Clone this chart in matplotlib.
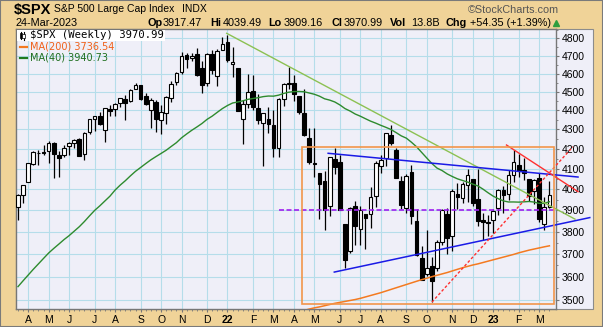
import matplotlib
matplotlib.use("Agg")
import matplotlib.pyplot as plt
import numpy as np
import pandas as pd
from matplotlib.patches import Rectangle
from matplotlib.lines import Line2D
from matplotlib.ticker import FixedLocator, FixedFormatter, NullFormatter

plt.rcParams['font.family'] = ['Liberation Sans', 'DejaVu Sans']

# ---------------- data ----------------
weeks = pd.date_range('2021-03-26', '2023-03-24', freq='W-FRI')

opens = [3916.48, 3971.09, 4034.44, 4124.71, 4179.80, 4185.14, 4191.98, 4228.29, 4169.14, 4168.61,
         4216.52, 4229.34, 4248.87, 4173.40, 4284.90, 4356.46, 4372.41, 4296.40, 4409.58, 4406.86,
         4438.16, 4462.12, 4450.29, 4513.76, 4535.38, 4474.81, 4402.95, 4442.12, 4348.84, 4385.44,
         4463.72, 4553.69, 4610.62, 4701.48, 4689.30, 4712.00, 4628.75, 4548.37, 4710.30, 4587.90,
         4733.99, 4778.14, 4655.34, 4632.24, 4356.32, 4431.79, 4505.75, 4412.61, 4332.74, 4354.17,
         4322.56, 4202.75, 4462.40, 4541.09, 4547.97, 4474.65, 4385.63, 4255.34, 4130.61, 4081.27,
         4038.88, 3919.42, 4151.09, 4134.72, 3838.15, 3715.31, 3920.76, 3815.11, 3880.94, 3883.79,
         3965.72, 4112.38, 4155.93, 4269.37, 4195.08, 4041.25, 3909.43, 4083.67, 3849.91, 3682.72,
         3609.78, 3647.51, 3638.65, 3754.74, 3881.85, 3780.71, 3977.97, 3956.23, 4023.34, 4052.02,
         3954.17, 3853.79, 3843.34, 3853.29, 3910.82, 3999.28, 3978.14, 4070.07, 4119.57, 4096.62,
         4052.35, 3992.36, 4055.15, 3835.12, 3917.47]
highs = [3978.19, 4020.63, 4129.48, 4191.31, 4194.17, 4218.78, 4238.04, 4236.39, 4188.72, 4218.36,
         4234.12, 4249.74, 4257.16, 4286.12, 4355.01, 4372.87, 4393.68, 4415.18, 4429.97, 4440.82,
         4468.00, 4480.26, 4513.33, 4545.85, 4535.38, 4492.99, 4465.40, 4457.30, 4429.97, 4475.82,
         4559.67, 4608.08, 4718.50, 4714.92, 4717.75, 4743.83, 4672.95, 4713.57, 4731.99, 4740.74,
         4808.93, 4818.62, 4748.83, 4632.24, 4453.23, 4595.31, 4590.03, 4489.55, 4385.34, 4416.78,
         4402.64, 4465.40, 4546.03, 4637.30, 4593.45, 4474.65, 4512.94, 4308.45, 4307.66, 4081.27,
         4090.72, 4158.49, 4204.77, 4168.78, 3838.15, 3913.65, 3945.86, 3918.50, 3880.94, 4012.44,
         4140.15, 4167.66, 4280.47, 4325.28, 4203.04, 4062.99, 4076.81, 4119.28, 3907.07, 3736.00,
         3806.91, 3685.41, 3762.79, 3905.42, 3911.79, 4001.48, 4028.84, 4034.02, 4100.96, 4052.45,
         4100.96, 3889.00, 3878.30, 3906.19, 4003.95, 4015.39, 4094.21, 4195.44, 4176.54, 4156.00,
         4052.35, 4048.29, 4078.49, 3964.46, 4039.49]
lows = [3853.50, 3937.00, 4034.44, 4118.60, 4118.38, 4169.00, 4126.99, 4056.88, 4061.41, 4157.00,
        4167.59, 4205.00, 4164.40, 4144.33, 4278.00, 4289.37, 4321.00, 4233.13, 4372.00, 4367.73,
        4417.00, 4347.53, 4443.00, 4513.00, 4457.00, 4427.00, 4305.91, 4288.52, 4278.94, 4329.92,
        4447.47, 4537.36, 4595.06, 4630.86, 4672.78, 4585.43, 4495.12, 4532.00, 4600.22, 4531.10,
        4733.00, 4662.74, 4582.24, 4395.34, 4222.62, 4414.00, 4401.41, 4327.22, 4114.65, 4279.54,
        4157.87, 4161.72, 4424.30, 4517.69, 4450.04, 4381.34, 4267.62, 4124.28, 4062.51, 3858.87,
        3810.32, 3875.13, 4074.00, 3900.16, 3636.87, 3705.00, 3738.67, 3742.06, 3721.56, 3818.63,
        3913.42, 4079.81, 4112.09, 4218.70, 4057.66, 3906.21, 3886.82, 3837.08, 3690.00, 3584.13,
        3604.00, 3491.58, 3624.00, 3741.00, 3698.15, 3713.00, 3906.54, 3933.00, 3938.00, 3918.39,
        3827.28, 3764.49, 3780.00, 3794.33, 3877.00, 3885.54, 3949.06, 4037.20, 4060.79, 4047.00,
        3943.08, 3928.16, 3846.32, 3808.86, 3909.16]
closes = [3974.54, 4019.87, 4128.80, 4185.47, 4180.17, 4181.17, 4232.60, 4173.85, 4155.86, 4204.11,
          4229.89, 4247.44, 4166.45, 4280.70, 4352.34, 4369.55, 4327.16, 4411.79, 4395.26, 4436.52,
          4468.00, 4441.67, 4509.37, 4535.43, 4458.58, 4432.99, 4455.48, 4357.04, 4391.34, 4471.37,
          4544.90, 4605.38, 4697.53, 4682.85, 4697.96, 4594.62, 4538.43, 4712.02, 4620.64, 4725.79,
          4766.18, 4677.03, 4662.85, 4397.94, 4431.85, 4500.53, 4418.64, 4348.87, 4384.65, 4328.87,
          4204.31, 4463.12, 4543.06, 4545.86, 4488.28, 4392.59, 4271.78, 4131.93, 4123.34, 4023.89,
          3901.36, 4158.24, 4108.54, 3900.86, 3674.84, 3911.74, 3825.33, 3899.38, 3863.16, 3961.63,
          4130.29, 4145.19, 4280.15, 4228.48, 4057.66, 3924.26, 4067.36, 3873.33, 3693.23, 3585.62,
          3639.66, 3583.07, 3752.75, 3901.06, 3770.55, 3992.93, 3965.34, 4026.12, 4071.70, 3934.38,
          3852.36, 3844.82, 3839.50, 3895.08, 3999.09, 3972.61, 4070.56, 4136.48, 4090.46, 4079.09,
          3970.04, 4045.64, 3861.59, 3916.64, 3970.99]

# weekly closes of the 39 weeks before the first candle (for the 40-week average)
prior_closes = [3009.05, 3130.01, 3185.04, 3224.73, 3215.63, 3271.12, 3351.28, 3372.85, 3397.16, 3508.01,
                3426.96, 3340.97, 3319.47, 3298.46, 3348.44, 3477.13, 3483.81, 3465.39, 3269.96, 3509.44,
                3585.15, 3557.54, 3638.35, 3699.12, 3663.46, 3709.41, 3703.06, 3756.07, 3824.68, 3768.25,
                3841.47, 3714.24, 3886.83, 3934.83, 3906.71, 3811.15, 3841.94, 3943.34, 3913.10]

# 200-week moving average (from week of 2022-04-15)
ma200_first_week = '2022-04-15'
ma200 = [3450, 3456, 3462, 3467, 3471, 3476, 3481, 3486, 3490, 3494,
         3498, 3502, 3507, 3513, 3519, 3525, 3531, 3538, 3545, 3552,
         3559, 3566, 3573, 3580, 3587, 3593, 3600, 3606, 3612, 3618,
         3625, 3632, 3639, 3645, 3651, 3656, 3662, 3668, 3674, 3680,
         3686, 3692, 3698, 3705, 3711, 3717, 3722, 3727, 3732, 3736.54]

month_tick_weeks = ['2021-04-09', '2021-05-07', '2021-06-04', '2021-07-09', '2021-08-06', '2021-09-10',
                    '2021-10-08', '2021-11-05', '2021-12-10', '2022-01-07', '2022-02-11', '2022-03-11',
                    '2022-04-08', '2022-05-06', '2022-06-10', '2022-07-08', '2022-08-05', '2022-09-09',
                    '2022-10-07', '2022-11-11', '2022-12-09', '2023-01-06', '2023-02-10', '2023-03-10']
month_labels = ['A', 'M', 'J', 'J', 'A', 'S', 'O', 'N', 'D', '22', 'F', 'M',
                'A', 'M', 'J', 'J', 'A', 'S', 'O', 'N', 'D', '23', 'F', 'M']
price_ticks = [3500, 3600, 3700, 3800, 3900, 4000, 4100, 4200, 4300, 4400, 4500, 4600, 4700, 4800]

# annotations (week index, price)
trend_green = [(40.84, 4829), (109.0, 3859)]
trend_blue_upper = [(60.7, 4178), (109.6, 4060)]
trend_blue_lower = [(61.9, 3620), (111.9, 3866)]
trend_red_dotted = [(81.0, 3491), (108.6, 4211)]
trend_red_solid = [(95.6, 4220), (109.6, 3989)]
level_magenta = 3900
level_magenta_span = (51.1, 105.2)
box_orange = (55.64, 104.95, 3485, 4208)

# ---------------- figure ----------------
W, H = 603, 327
TAN = '#F0D398'
LAV = '#EFEFF8'
GRID = '#B5DDEA'
SPINE = '#777777'

def fx(px):
    return px / W

def fy(py):
    return 1 - py / H

fig = plt.figure(figsize=(W / 100, H / 100), dpi=100)
fig.patch.set_facecolor(TAN)

# panel background including the price scale area
fig.add_artist(Rectangle((fx(16), fy(309)), fx(593) - fx(16), fy(29.3) - fy(309),
                         transform=fig.transFigure, facecolor=LAV, edgecolor='#8C8C8C',
                         lw=0.8, zorder=-2))
# outer border
fig.add_artist(Rectangle((0, 0), 1, 1, transform=fig.transFigure, facecolor='none',
                         edgecolor='#7A7A7A', lw=1.5, zorder=10))

ax = fig.add_axes([fx(16), fy(309), (556 - 16) / W, (309 - 29.3) / H])
ax.set_facecolor(LAV)

x = np.arange(len(closes))
o = np.array(opens)
c = np.array(closes)
hi = np.array(highs)
lo = np.array(lows)

ax.set_yscale('log')
ax.set_xlim(-0.391, 105.29)
ax.set_ylim(3462.2, 4852.4)

# candles
ax.vlines(x, lo, hi, color='black', lw=0.9, zorder=3)
up = c >= o
ax.bar(x, np.maximum(np.abs(c - o), 0.5), bottom=np.minimum(o, c), width=0.72,
       color=np.where(up, 'white', 'black'), edgecolor='black', lw=0.8, zorder=4)

# moving averages
ma40 = pd.Series(prior_closes + closes).rolling(40).mean().to_numpy()[len(prior_closes):]
ax.plot(x, ma40, color='#2E8B2E', lw=1.0, zorder=5)
i0 = weeks.get_loc(pd.Timestamp(ma200_first_week))
ax.plot(np.arange(i0, i0 + len(ma200)), ma200, color='#F47A20', lw=1.1, zorder=5)

# annotations
def seg(pts, **kw):
    (x0, y0), (x1, y1) = pts
    ax.plot([x0, x1], [y0, y1], clip_on=False, zorder=6, **kw)

seg(trend_green, color='#8CC152', lw=1.0)
seg(trend_blue_upper, color='#1A1AE6', lw=1.1)
seg(trend_blue_lower, color='#1A1AE6', lw=1.1)
seg(trend_red_dotted, color='#FF3030', lw=1.0, ls=(0, (2, 1.5)))
seg(trend_red_solid, color='#FF3030', lw=1.0)
ax.plot(level_magenta_span, [level_magenta, level_magenta], color='#A020F0', lw=1.2,
        ls=(0, (3, 1.5)), zorder=6)
bx0, bx1, by0, by1 = box_orange
ax.add_patch(Rectangle((bx0, by0), bx1 - bx0, by1 - by0, fill=False,
                       edgecolor='#F2954A', lw=1.2, zorder=6))

# axes styling
ax.yaxis.tick_right()
ax.yaxis.set_major_locator(FixedLocator(price_ticks))
ax.yaxis.set_major_formatter(FixedFormatter([str(v) for v in price_ticks]))
ax.yaxis.set_minor_locator(FixedLocator([v + 50 for v in price_ticks]))
ax.yaxis.set_minor_formatter(NullFormatter())

tick_idx = [weeks.get_loc(pd.Timestamp(d)) for d in month_tick_weeks]
ax.set_xticks(tick_idx)
ax.set_xticklabels(month_labels)
ax.set_xticks(x, minor=True)
for t, lab in zip(ax.get_xticklabels(), month_labels):
    if lab.isdigit():
        t.set_fontweight('bold')
        t.set_fontsize(8.5)

ax.tick_params(axis='both', which='major', direction='out', length=2.5, width=0.8,
               color=SPINE, labelsize=7.5, pad=1.5)
ax.tick_params(axis='both', which='minor', direction='out', length=1.5, width=0.6,
               color=SPINE)
ax.grid(True, which='major', color=GRID, lw=0.8)
ax.set_axisbelow(True)
for s in ax.spines.values():
    s.set_color(SPINE)
    s.set_linewidth(1.0)

# ---------------- header ----------------
fig.text(fx(14), fy(10), '$SPX', fontsize=10.5, fontweight='bold', va='center', ha='left')
fig.text(fx(54), fy(9.5), 'S&P 500 Large Cap Index', fontsize=7.5, va='center', ha='left')
fig.text(fx(182), fy(9.5), 'INDX', fontsize=7.5, va='center', ha='left')
fig.text(fx(559), fy(10), '\u00a9StockCharts.com', fontsize=7.8, va='center', ha='right',
         color='#555555')
fig.text(fx(16), fy(22.5), '24-Mar-2023', fontsize=7.8, va='center', ha='left')
row2 = [(148, 'Op', True), (162.5, '3917.47', False), (210, 'Hi', True), (223, '4039.49', False),
        (268, 'Lo', True), (283.5, '3909.16', False), (331, 'Cl', True), (343.5, '3970.99', False),
        (390, 'Vol', True), (411.5, '13.8B', False), (446, 'Chg', True),
        (470.5, '+54.35 (+1.39%)', False)]
for px, txt, bold in row2:
    fig.text(fx(px), fy(22.5), txt, fontsize=7.8, va='center', ha='left',
             fontweight='bold' if bold else 'normal')
fig.add_artist(Line2D([fx(556)], [fy(23)], marker='^', markersize=4.5, color='#2E9E3E',
                      transform=fig.transFigure))

# ---------------- legend ----------------
fig.add_artist(Rectangle((fx(17), fy(41)), fx(165) - fx(17), fy(30) - fy(41),
                         transform=fig.transFigure, facecolor='white', edgecolor='none', zorder=8))
# small candle icon
fig.add_artist(Line2D([fx(20.5), fx(20.5)], [fy(31.5), fy(39)], color='black', lw=0.8,
                      transform=fig.transFigure, zorder=9))
fig.add_artist(Rectangle((fx(19.5), fy(37.5)), fx(21.5) - fx(19.5), fy(33) - fy(37.5),
                         transform=fig.transFigure, facecolor='black', edgecolor='black',
                         lw=0.5, zorder=9))
fig.add_artist(Line2D([fx(23.5), fx(23.5)], [fy(32), fy(39.5)], color='black', lw=0.8,
                      transform=fig.transFigure, zorder=9))
fig.add_artist(Rectangle((fx(22.5), fy(38)), fx(24.5) - fx(22.5), fy(34) - fy(38),
                         transform=fig.transFigure, facecolor='white', edgecolor='black',
                         lw=0.5, zorder=9))
fig.text(fx(30.5), fy(35.5), '$SPX (Weekly) 3970.99', fontsize=7.6, family='DejaVu Sans Mono',
         va='center', ha='left', zorder=9)
fig.add_artist(Line2D([fx(20), fx(27)], [fy(46.5), fy(46.5)], color='#F47A20', lw=1.6,
                      transform=fig.transFigure, zorder=9))
fig.text(fx(29.5), fy(46.5), 'MA(200) 3736.54', fontsize=7.0, family='DejaVu Sans',
         color='#F06018', va='center', ha='left', zorder=9)
fig.add_artist(Line2D([fx(20), fx(27)], [fy(57.5), fy(57.5)], color='#1E7A1E', lw=1.6,
                      transform=fig.transFigure, zorder=9))
fig.text(fx(29.5), fy(57.5), 'MA(40) %.2f' % ma40[-1], fontsize=7.0, family='DejaVu Sans',
         color='#1E6E1E', va='center', ha='left', zorder=9)

fig.savefig('out.png', dpi=100, facecolor=fig.get_facecolor())
